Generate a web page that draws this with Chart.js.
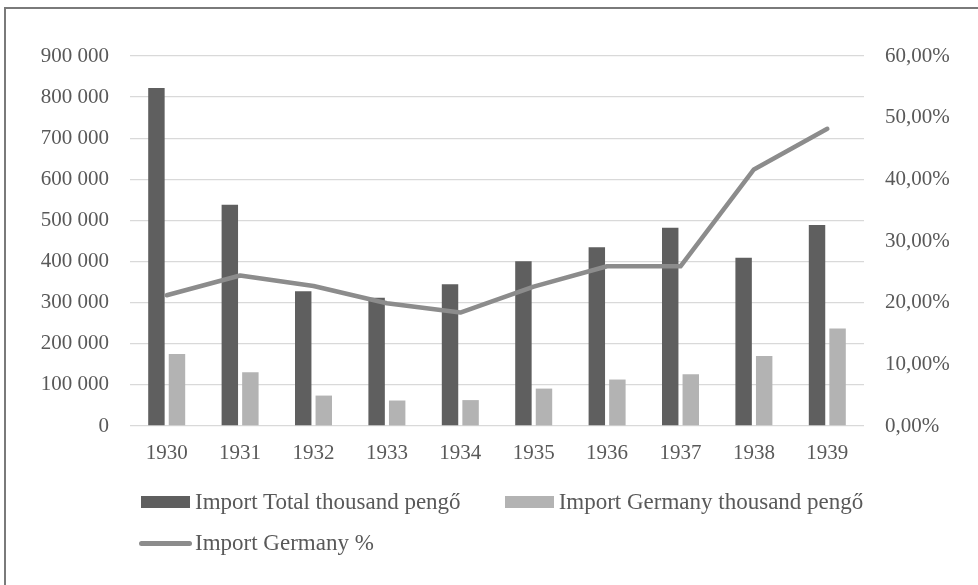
<!DOCTYPE html>
<html>
<head>
<meta charset="utf-8">
<script src="https://cdn.jsdelivr.net/npm/chart.js@4.4.1/dist/chart.umd.min.js"></script>
<style>
    body { margin: 0; background: #fff; overflow: hidden; }
    #wrap { position: relative; width: 978px; height: 585px; }
    #frame {
        position: absolute; left: 4px; top: 7px; width: 1000px; height: 600px;
        border-left: 2px solid #7a7a7a; border-top: 2px solid #7a7a7a;
    }
    #importChart { position: absolute; left: 0; top: 0; }
    #legend {
        position: absolute; left: 141px; top: 488px; width: 800px;
        display: flex; flex-wrap: wrap;
        font-family: 'Liberation Serif', serif; font-size: 23px; color: #595959;
    }
    .legend-item { display: flex; align-items: center; height: 28px; margin: 0 44px 13px 0; white-space: nowrap; }
    .legend-swatch { width: 49px; height: 12px; margin-right: 5px; }
    .legend-swatch.line { width: 53px; height: 5px; border-radius: 3px; margin-left: -2px; margin-right: 3px; }
</style>
</head>
<body>
<div id="wrap">
    <div id="frame"></div>
    <canvas id="importChart" width="978" height="585"></canvas>
    <div id="legend"></div>
</div>
<script>
const years = ['1930', '1931', '1932', '1933', '1934', '1935', '1936', '1937', '1938', '1939'];
const importTotal = [822000, 538000, 328000, 312000, 345000, 401000, 435000, 482000, 409000, 489000];
const importGermany = [175000, 131000, 74000, 62000, 63000, 91000, 113000, 126000, 170000, 237000];
const germanyShare = [21.2, 24.4, 22.7, 19.9, 18.4, 22.6, 25.9, 25.9, 41.6, 48.2]; // percent

const textColor = '#595959';
const tickFont = { family: "'Liberation Serif', serif", size: 21 };

function spaced(value) {
    return String(value).replace(/\B(?=(\d{3})+(?!\d))/g, ' ');
}

document.addEventListener("DOMContentLoaded", function() {
    const chart = initChart();
    buildLegend(chart);
});

function initChart() {
    const ctx = document.getElementById('importChart').getContext('2d');
    return new Chart(ctx, {
        type: 'bar',
        data: {
            labels: years,
            datasets: [
                {
                    label: 'Import Total thousand pengő',
                    data: importTotal,
                    backgroundColor: '#5f5f5f',
                    categoryPercentage: 0.56,
                    barPercentage: 0.8,
                    yAxisID: 'y'
                },
                {
                    label: 'Import Germany thousand pengő',
                    data: importGermany,
                    backgroundColor: '#b3b3b3',
                    categoryPercentage: 0.56,
                    barPercentage: 0.8,
                    yAxisID: 'y'
                },
                {
                    type: 'line',
                    label: 'Import Germany %',
                    data: germanyShare,
                    borderColor: '#8c8c8c',
                    backgroundColor: '#8c8c8c',
                    borderWidth: 4.5,
                    borderCapStyle: 'round',
                    borderJoinStyle: 'round',
                    pointRadius: 0,
                    tension: 0,
                    order: -1, // draw over the bars
                    yAxisID: 'y1'
                }
            ]
        },
        options: {
            responsive: false,
            animation: false,
            layout: { padding: { top: 56, bottom: 119, left: 0, right: 0 } },
            plugins: {
                legend: { display: false },
                tooltip: { enabled: false }
            },
            scales: {
                x: {
                    grid: { display: false, drawTicks: false },
                    border: { display: false },
                    ticks: { color: textColor, font: tickFont, padding: 15 },
                    afterFit: function(scale) { scale.height = 40; }
                },
                y: {
                    position: 'left',
                    min: 0,
                    max: 900000,
                    grid: { color: '#d9d9d9', lineWidth: 1.3, drawTicks: false },
                    border: { display: false },
                    ticks: {
                        stepSize: 100000,
                        padding: 21,
                        color: textColor,
                        font: tickFont,
                        callback: function(value) { return spaced(value); }
                    },
                    afterFit: function(scale) { scale.width = 130; }
                },
                y1: {
                    position: 'right',
                    min: 0,
                    max: 60,
                    grid: { display: false, drawTicks: false },
                    border: { display: false },
                    ticks: {
                        stepSize: 10,
                        padding: 21,
                        color: textColor,
                        font: tickFont,
                        callback: function(value) { return value.toFixed(2).replace('.', ',') + '%'; }
                    },
                    afterFit: function(scale) { scale.width = 114; }
                }
            }
        }
    });
}

function buildLegend(chart) {
    const legend = document.getElementById('legend');
    chart.data.datasets.forEach(ds => {
        const item = document.createElement('div');
        item.className = 'legend-item';
        const swatch = document.createElement('span');
        swatch.className = 'legend-swatch' + (ds.type === 'line' ? ' line' : '');
        swatch.style.background = ds.type === 'line' ? ds.borderColor : ds.backgroundColor;
        const text = document.createElement('span');
        text.textContent = ds.label;
        item.appendChild(swatch);
        item.appendChild(text);
        legend.appendChild(item);
    });
}
</script>
</body>
</html>
